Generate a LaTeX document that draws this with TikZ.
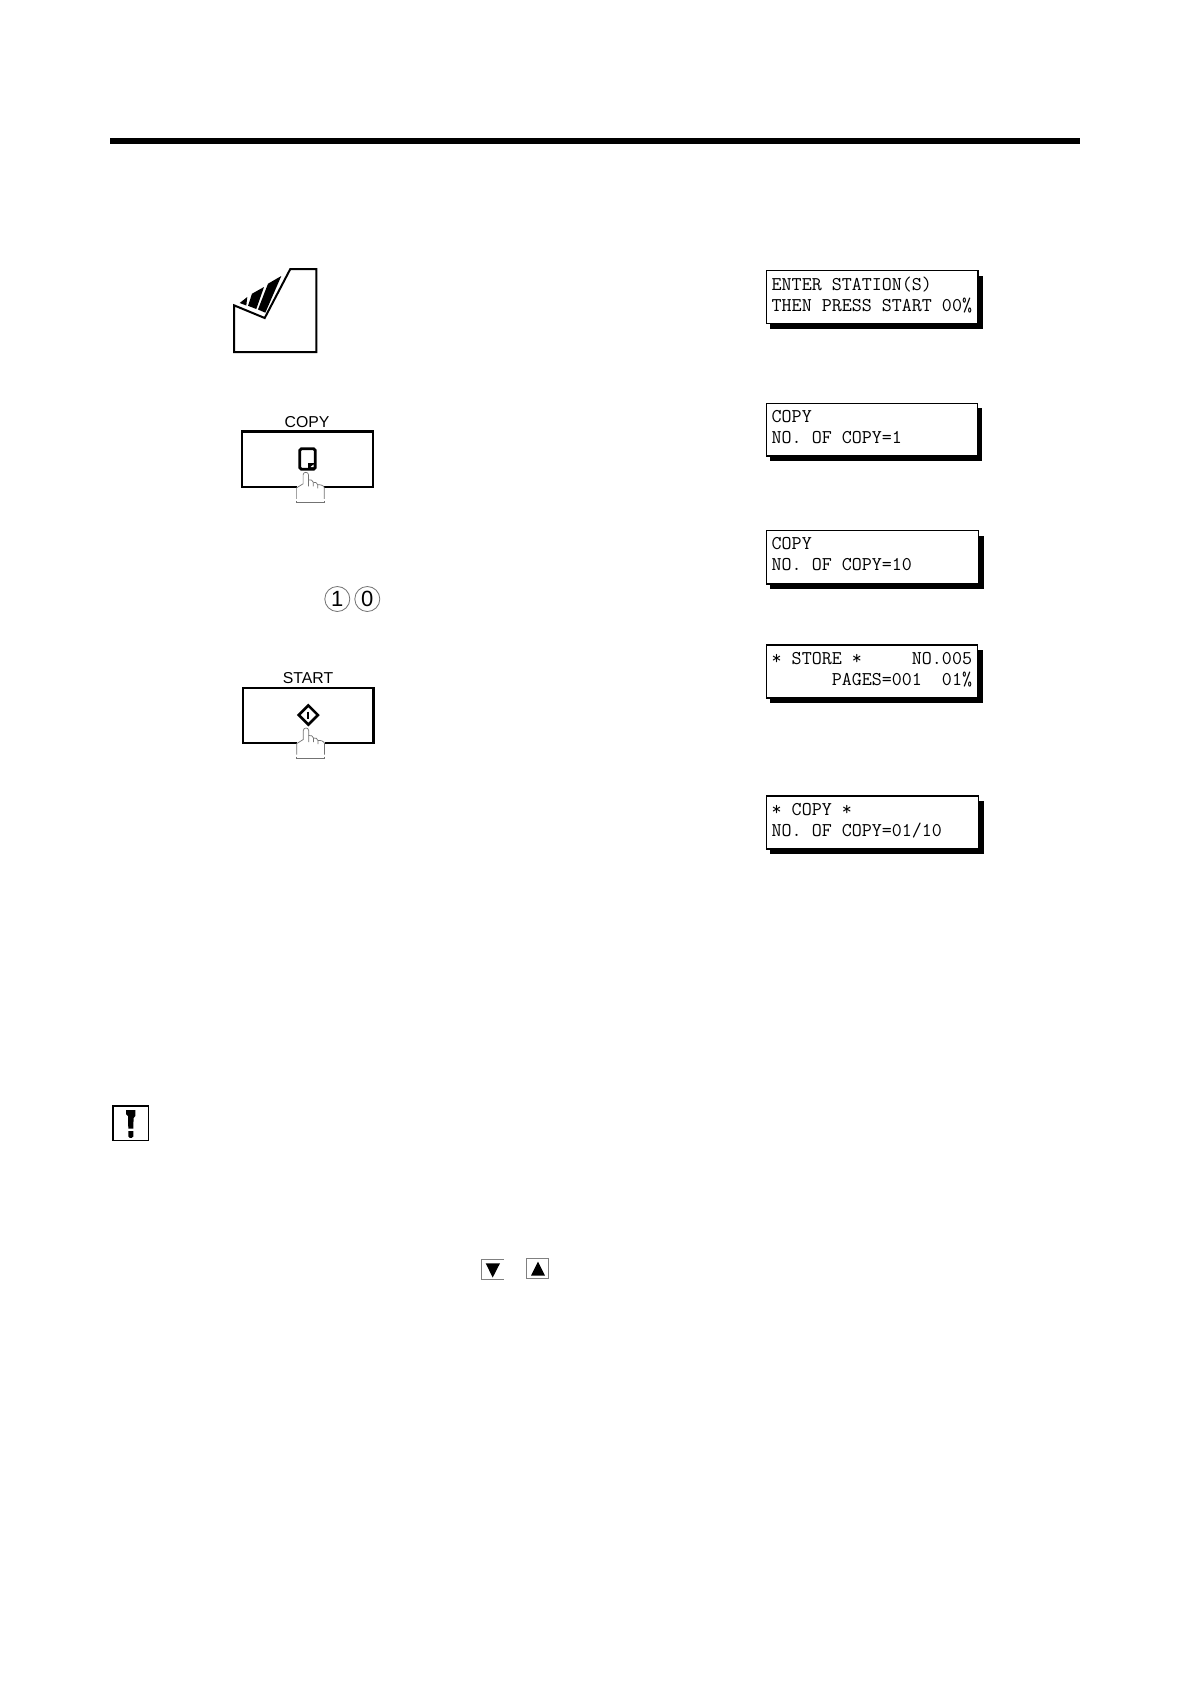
\documentclass[tikz,border=0pt]{standalone}
\usepackage{fontspec}
\setmainfont{Liberation Sans}
\tikzset{
  x=1pt,y=-1pt,
  lcdbox/.style={draw=black,line width=1.2pt,fill=white},
  lcdshadow/.style={fill=black,draw=none},
  lcdtext/.style={anchor=base west,inner sep=0pt,font=\ttfamily\fontsize{19.45}{22}\selectfont,text=black},
  keybox/.style={draw=black,line width=2.6pt,fill=white},
  keylabel/.style={inner sep=0pt,font=\fontsize{15.8}{18}\selectfont},
  handline/.style={draw=black!55,line width=.7pt},
  digitkey/.style={circle,draw=black!55,line width=.8pt,minimum size=25pt,inner sep=0pt,font=\fontsize{22}{24}\selectfont},
  arrowkey/.style={draw=black!50,line width=1pt},
  hand/.pic={
    \fill[white] (-9.2,12) rectangle (18.5,29);
    \fill[white] (-2.7,1) rectangle (2.7,12);
    \path[handline] (-9.2,26.5) -- (-9.2,15.5) -- (-2.7,11.5) -- (-2.7,2.5) .. controls (-2.7,-.8) and (2.7,-.8) .. (2.7,2.5) -- (2.7,14);
    \path[handline] (2.7,7.5) .. controls (4.5,7) and (7.5,8) .. (7.5,10) -- (7.5,14);
    \path[handline] (7.5,10) .. controls (9,9.5) and (12,10.5) .. (12,12.5) -- (12,16);
    \path[handline] (12,12.5) .. controls (13.5,12) and (18.5,13) .. (18.5,15.5) -- (18.5,26.5);
    \path[handline] (-9.2,30) -- (18.5,30);
    \path[handline] (-9.2,28.5) -- (-9.2,30.5) (18.5,28.5) -- (18.5,30.5);
  }
}
\begin{document}
\begin{tikzpicture}
\useasboundingbox (0,0) rectangle (1190,1684);
\fill[white] (0,0) rectangle (1190,1684);
% top rule
\fill[black] (110,137.5) rectangle (1080,144);
% document icon
\draw[black,line width=2pt,line join=miter,fill=white] (234,305.3) -- (264.7,318) -- (290.3,269) -- (316.3,269) -- (316.3,352) -- (234,352) -- cycle;
\fill[black] (239.7,303) -- (247.3,297) -- (246.3,305.5) -- cycle;
\fill[black] (248,305.8) -- (252,293.7) -- (264,287) -- (256.3,309) -- cycle;
\fill[black] (258,309.5) -- (268,283.7) -- (281.3,276) -- (265.3,312.7) -- cycle;
% COPY key
\node[keylabel] (copylabel) at (307,422) {COPY};
\draw[keybox] (241.8,431.5) rectangle (373,487);
\draw[black,line width=2.8pt,rounded corners=1.5pt,fill=white] (299.8,448.8) rectangle (315.2,469.2);
\fill[black] (308,469) -- (308,463) -- (315,463) -- (315,469) -- cycle;
\fill[white] (310.5,467) -- (313.5,464.5) -- (313.5,467) -- cycle;
\pic at (305.8,472.3) {hand};
% keypad digits
\node[digitkey] (one) at (337.3,599) {1};
\node[digitkey] (zero) at (367.3,599) {0};
% START key
\node[keylabel] (startlabel) at (308,678.5) {START};
\draw[keybox] (242.8,688) rectangle (373.6,743);
\draw[black,line width=2.6pt,fill=white] (308.3,705.4) -- (317.9,715) -- (308.3,724.6) -- (298.7,715) -- cycle;
\draw[black,line width=2pt] (308.3,711.5) -- (308.3,718.5);
\pic at (306,728) {hand};
% LCD panels
\fill[lcdshadow] (770,276) rectangle (983.3,329.3);
\draw[lcdbox] (766.2,270.8) rectangle (978,323.3);
\node[lcdtext] (l1a) at (771.5,290.8) {ENTER STATION(S)};
\node[lcdtext] (l1b) at (771.5,311.3) {THEN PRESS START 00\%};
\fill[lcdshadow] (770,408) rectangle (982.3,461);
\draw[lcdbox] (766.2,403.8) rectangle (977.3,456);
\node[lcdtext] (l2a) at (771.5,422.9) {COPY};
\node[lcdtext] (l2b) at (771.5,443.9) {NO. OF COPY=1};
\fill[lcdshadow] (770,536) rectangle (983.8,589.3);
\draw[lcdbox] (766.2,530.8) rectangle (978.4,584);
\node[lcdtext] (l3a) at (771.5,549.3) {COPY};
\node[lcdtext] (l3b) at (771.5,570.3) {NO. OF COPY=10};
\fill[lcdshadow] (770,650) rectangle (983,703.3);
\draw[lcdbox] (766.2,645) rectangle (977.3,698);
\node[lcdtext] (l4a) at (771.5,664.3) {* STORE *\ \ \ \ \ NO.005};
\node[lcdtext] (l4b) at (771.5,685.7) {\ \ \ \ \ \ PAGES=001\ \ 01\%};
\fill[lcdshadow] (770,801) rectangle (984.3,854.3);
\draw[lcdbox] (766.2,796) rectangle (978.7,849);
\node[lcdtext] (l5a) at (771.5,815.3) {* COPY *};
\node[lcdtext] (l5b) at (771.5,836.3) {NO. OF COPY=01/10};
% caution icon
\draw[black,line width=1.6pt,fill=white] (112.8,1105.8) rectangle (148.4,1140.4);
\fill[black] (126,1110) -- (135.3,1110) -- (135.3,1116) -- (133.6,1118) -- (133.3,1128.5) -- (128.3,1128.5) -- (128,1116) -- (126,1114) -- cycle;
\fill[black] (128.3,1131) -- (133.3,1131) -- (133.3,1136.5) -- (131.8,1137.8) -- (129.8,1137.8) -- (128.3,1136.5) -- cycle;
% arrow keys
\draw[arrowkey] (503.5,1259.3) -- (481.3,1259.3) -- (481.3,1279) -- (503.5,1279);
\fill[black] (485.7,1263.3) -- (500,1263.3) -- (492.7,1277.5) -- cycle;
\draw[arrowkey] (526.5,1258.5) rectangle (548.3,1278);
\fill[black] (531,1275.7) -- (545,1275.7) -- (538,1261.5) -- cycle;
\end{tikzpicture}
\end{document}
